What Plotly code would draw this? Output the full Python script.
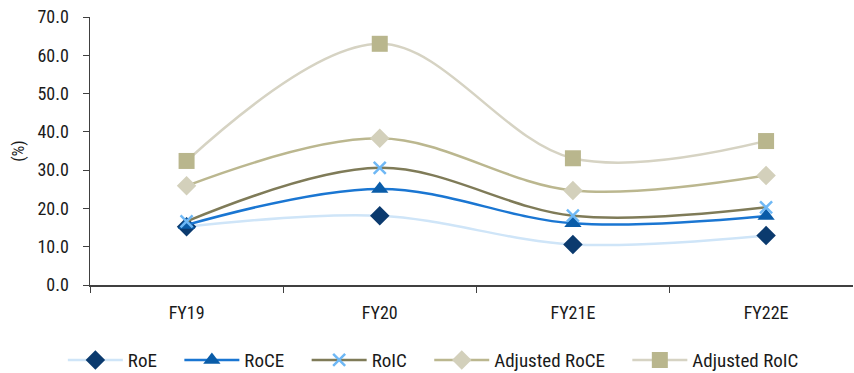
import plotly.graph_objects as go

categories = ["FY19", "FY20", "FY21E", "FY22E"]
roe = [15.2, 18.1, 10.6, 12.9]
roce = [15.7, 25.1, 16.1, 18.0]
roic = [16.6, 30.6, 18.1, 20.3]
adj_roce = [25.9, 38.3, 24.7, 28.6]
adj_roic = [32.4, 63.0, 33.1, 37.6]
y_ticks = [0, 10, 20, 30, 40, 50, 60, 70]
y_tick_labels = ["0.0", "10.0", "20.0", "30.0", "40.0", "50.0", "60.0", "70.0"]
series_names = ["RoE", "RoCE", "RoIC", "Adjusted RoCE", "Adjusted RoIC"]

FONT = "Roboto Condensed, Roboto, sans-serif"
PAD = "\u00a0" * 4

styles = [
    (roe, "#cfe5f8", "#0b3a6e", "diamond", 15),
    (roce, "#1a76d2", "#0a5ca8", "triangle-up", 15),
    (roic, "#7f7b58", "#6fb8f5", "x-thin", 12),
    (adj_roce, "#bbb78f", "#d3d0bb", "diamond", 15),
    (adj_roic, "#d6d3c3", "#b9b68d", "square", 16),
]

fig = go.Figure()
for i, (name, (vals, lc, mc, sym, sz)) in enumerate(zip(series_names, styles)):
    mline = dict(width=2.5, color=mc) if sym == "x-thin" else dict(width=0)
    label = name + (PAD if i < len(series_names) - 1 else "")
    fig.add_trace(go.Scatter(
        x=categories, y=vals, name=label, mode="lines+markers",
        line=dict(color=lc, width=2.5, shape="spline", smoothing=1.0),
        marker=dict(symbol=sym, size=sz, color=mc, line=mline),
        hoverinfo="skip",
    ))

fig.update_layout(
    width=854, height=373,
    margin=dict(l=90, r=1, t=17, b=88, autoexpand=False),
    plot_bgcolor="white", paper_bgcolor="white",
    font=dict(family=FONT, size=18, color="#1a1a1a"),
    showlegend=True,
    legend=dict(orientation="h", x=0.45, xanchor="center", y=-0.28, yanchor="middle",
                font=dict(size=19), itemwidth=55, traceorder="normal"),
    xaxis=dict(
        type="category", range=[-0.5, 3.45], showgrid=False, zeroline=False,
        showline=True, linecolor="#404040", linewidth=1.5,
        ticks="outside", tickson="boundaries", ticklen=6, tickcolor="#404040",
        ticklabelstandoff=11, automargin=False, tickfont=dict(size=18),
    ),
    yaxis=dict(
        range=[0, 70], tickvals=y_ticks, ticktext=y_tick_labels,
        showgrid=False, zeroline=False,
        showline=True, linecolor="#404040", linewidth=1.5,
        ticks="outside", ticklen=6, tickcolor="#404040",
        ticklabelstandoff=10, automargin=False, tickfont=dict(size=18),
        title=dict(text="(%)", standoff=8, font=dict(size=17)),
    ),
)

fig.write_html("out.html", config={"displayModeBar": False, "staticPlot": True},
               post_script="document.body.style.margin='0';document.body.style.overflow='hidden';")
